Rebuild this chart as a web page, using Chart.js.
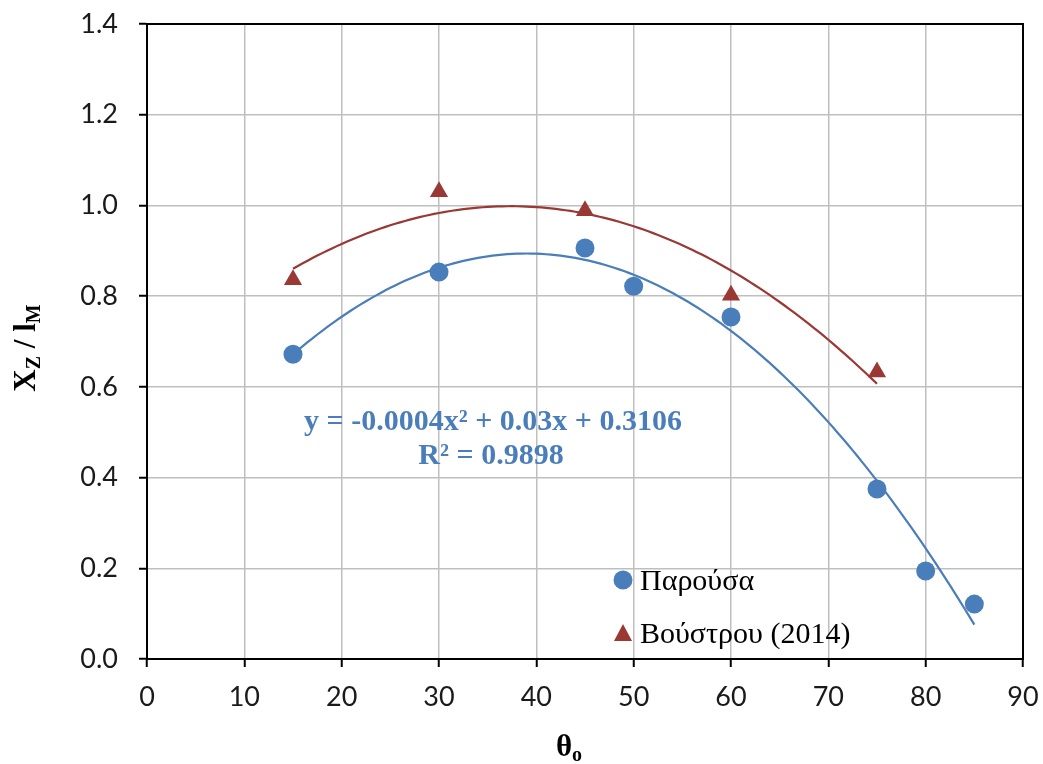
<!DOCTYPE html>
<html>
<head>
<meta charset="utf-8">
<script src="https://cdn.jsdelivr.net/npm/chart.js@4/dist/chart.umd.min.js"></script>
<style>
  html, body { margin: 0; padding: 0; background: #ffffff; }
  #wrap { width: 1043px; height: 764px; position: relative; }
</style>
</head>
<body>
<div id="wrap"><canvas id="c" width="1043" height="764"></canvas></div>
<script>
// Angle θo (degrees) and measured Xz / lM
const presentAngles = [15, 30, 45, 50, 60, 75, 80, 85];
const presentValues = [0.672, 0.853, 0.906, 0.822, 0.754, 0.375, 0.194, 0.121];

const voustrouAngles = [15, 30, 45, 60, 75];
const voustrouValues = [0.836, 1.030, 0.988, 0.802, 0.633];

const xTicks = [0, 10, 20, 30, 40, 50, 60, 70, 80, 90];
const yTicks = [0.0, 0.2, 0.4, 0.6, 0.8, 1.0, 1.2, 1.4];

const seriesNames = ['Παρούσα', 'Βούστρου (2014)'];
const equationText = 'y = -0.0004x² + 0.03x + 0.3106';
const r2Text = 'R² = 0.9898';

const BLUE = '#4a7ebb';
const RED = '#9a3834';
const SERIF = '"Liberation Serif", "Times New Roman", serif';

// Second-order least-squares fit (polynomial trendline)
function quadFit(xs, ys) {
  let s = [0, 0, 0, 0, 0], t = [0, 0, 0];
  for (let i = 0; i < xs.length; i++) {
    let p = 1;
    for (let k = 0; k < 5; k++) { s[k] += p; if (k < 3) t[k] += p * ys[i]; p *= xs[i]; }
  }
  const A = [[s[0], s[1], s[2], t[0]], [s[1], s[2], s[3], t[1]], [s[2], s[3], s[4], t[2]]];
  for (let i = 0; i < 3; i++) {
    for (let j = i + 1; j < 3; j++) {
      const f = A[j][i] / A[i][i];
      for (let k = i; k < 4; k++) A[j][k] -= f * A[i][k];
    }
  }
  const c = [0, 0, 0];
  for (let i = 2; i >= 0; i--) {
    let v = A[i][3];
    for (let k = i + 1; k < 3; k++) v -= A[i][k] * c[k];
    c[i] = v / A[i][i];
  }
  return c; // c0 + c1 x + c2 x^2
}
function trendPoints(xs, ys) {
  const c = quadFit(xs, ys);
  const lo = Math.min(...xs), hi = Math.max(...xs), pts = [];
  for (let x = lo; x <= hi + 1e-9; x += 0.5) pts.push({ x: x, y: c[0] + c[1] * x + c[2] * x * x });
  return pts;
}

const toXY = (xs, ys) => xs.map((x, i) => ({ x: x, y: ys[i] }));

// Frame, axis titles, trendline label and in-plot legend
const decorations = {
  id: 'decorations',
  afterDatasetsDraw(chart) {
    const { ctx, chartArea: a } = chart;
    ctx.save();
    ctx.strokeStyle = '#000';
    ctx.lineWidth = 2;
    ctx.strokeRect(a.left, a.top, a.right - a.left, a.bottom - a.top);

    // trendline equation
    ctx.fillStyle = BLUE;
    ctx.font = 'bold 30px ' + SERIF;
    ctx.textAlign = 'center';
    ctx.textBaseline = 'middle';
    ctx.fillText(equationText, 493, 422);
    ctx.fillText(r2Text, 491, 456);

    // legend
    ctx.textAlign = 'left';
    ctx.font = '30px ' + SERIF;
    ctx.fillStyle = BLUE;
    ctx.beginPath(); ctx.arc(623, 580, 9.5, 0, Math.PI * 2); ctx.fill();
    ctx.fillStyle = RED;
    ctx.beginPath(); ctx.moveTo(623, 624); ctx.lineTo(632, 641); ctx.lineTo(614, 641); ctx.closePath(); ctx.fill();
    ctx.fillStyle = '#000';
    ctx.fillText(seriesNames[0], 640, 582);
    ctx.fillText(seriesNames[1], 640, 635);

    // x-axis title θo
    ctx.textBaseline = 'alphabetic';
    ctx.font = 'bold 31px ' + SERIF;
    const wTheta = ctx.measureText('θ').width;
    ctx.font = 'bold 20px ' + SERIF;
    const wO = ctx.measureText('o').width;
    let x0 = 569 - (wTheta + wO) / 2;
    ctx.font = 'bold 31px ' + SERIF;
    ctx.fillText('θ', x0, 756);
    ctx.font = 'bold 20px ' + SERIF;
    ctx.fillText('o', x0 + wTheta, 761);

    // y-axis title Xz / lM (rotated)
    ctx.translate(35, 348);
    ctx.rotate(-Math.PI / 2);
    const parts = [
      ['X', 'bold 31px ' + SERIF, 0],
      ['Z', 'bold 20px ' + SERIF, 5],
      [' / l', 'bold 31px ' + SERIF, 0],
      ['M', 'bold 20px ' + SERIF, 5]
    ];
    let total = 0;
    parts.forEach(p => { ctx.font = p[1]; total += ctx.measureText(p[0]).width; });
    let px = -total / 2;
    parts.forEach(p => {
      ctx.font = p[1];
      ctx.fillText(p[0], px, p[2]);
      px += ctx.measureText(p[0]).width;
    });
    ctx.restore();
  }
};

new Chart(document.getElementById('c'), {
  type: 'scatter',
  data: {
    datasets: [
      {
        label: seriesNames[0],
        data: toXY(presentAngles, presentValues),
        backgroundColor: BLUE, borderColor: BLUE,
        pointStyle: 'circle', pointRadius: 9.5, pointHoverRadius: 9.5, borderWidth: 0,
        order: 1
      },
      {
        label: seriesNames[1],
        data: toXY(voustrouAngles, voustrouValues),
        backgroundColor: RED, borderColor: RED,
        pointStyle: 'triangle', pointRadius: 10.5, pointHoverRadius: 10.5, borderWidth: 0,
        order: 1
      },
      {
        label: 'trend1',
        data: trendPoints(presentAngles, presentValues),
        showLine: true, pointRadius: 0, borderColor: BLUE, borderWidth: 2.2,
        order: 2
      },
      {
        label: 'trend2',
        data: trendPoints(voustrouAngles, voustrouValues),
        showLine: true, pointRadius: 0, borderColor: RED, borderWidth: 2.2,
        order: 2
      }
    ]
  },
  options: {
    responsive: false,
    animation: false,
    devicePixelRatio: 1,
    layout: { padding: { top: 24, right: 20, left: 0, bottom: 0 } },
    plugins: { legend: { display: false }, tooltip: { enabled: false } },
    scales: {
      x: {
        type: 'linear', min: 0, max: 90,
        afterBuildTicks: s => { s.ticks = xTicks.map(v => ({ value: v })); },
        afterFit: s => { s.height = 105; s.paddingLeft = 0; s.paddingRight = 0; },
        grid: { color: '#bfbfbf', lineWidth: 1.5, tickColor: '#000', tickLength: 8, tickWidth: 2 },
        border: { color: '#000', width: 2 },
        ticks: { color: '#1a1a1a', font: { family: 'Lato', size: 27 }, padding: 14, maxRotation: 0,
                 callback: v => String(v) }
      },
      y: {
        type: 'linear', min: 0, max: 1.4,
        afterBuildTicks: s => { s.ticks = yTicks.map(v => ({ value: v })); },
        afterFit: s => { s.width = 147; s.paddingTop = 0; s.paddingBottom = 0; },
        grid: { color: '#bfbfbf', lineWidth: 1.5, tickColor: '#000', tickLength: 8, tickWidth: 2 },
        border: { color: '#000', width: 2 },
        ticks: { color: '#1a1a1a', font: { family: 'Lato', size: 27 }, padding: 21,
                 callback: v => v.toFixed(1) }
      }
    }
  },
  plugins: [decorations]
});
</script>
</body>
</html>
